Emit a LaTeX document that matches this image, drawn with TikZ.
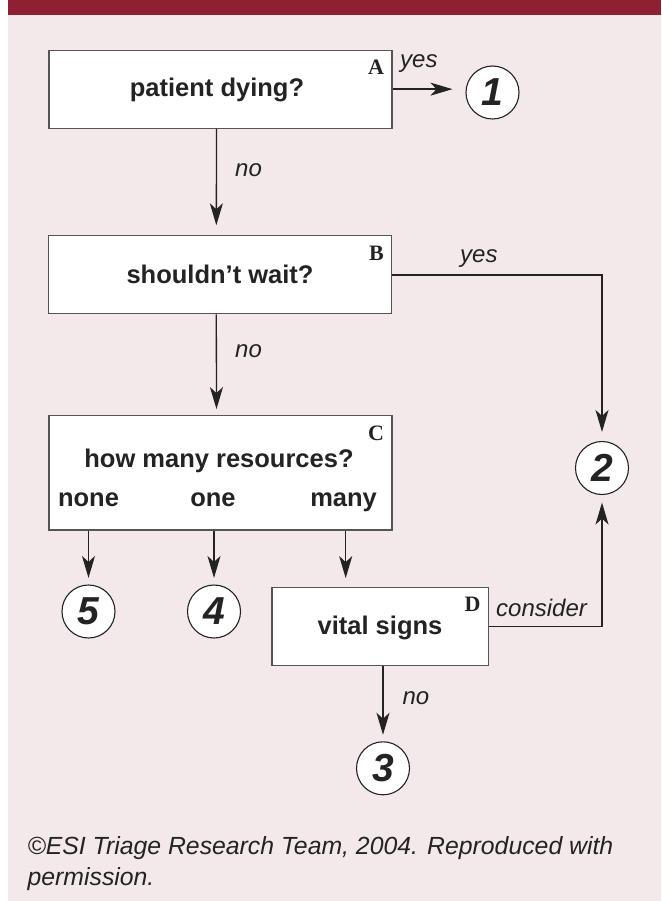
\documentclass[tikz,border=0pt]{standalone}
\usepackage{fontspec}
\setmainfont{Liberation Sans}
\newfontfamily\myserif{Liberation Serif}
\usetikzlibrary{arrows.meta,calc}
\definecolor{hdr}{RGB}{143,31,51}
\definecolor{bgpink}{RGB}{243,232,234}
\definecolor{ink}{RGB}{35,35,35}
\definecolor{edgegray}{RGB}{85,85,85}
\newcommand{\myBoldFont}{\fontsize{25.5}{30}\selectfont\bfseries}
\newcommand{\myItFont}{\fontsize{24}{28}\selectfont\itshape}
\newcommand{\myLetFont}{\myserif\fontsize{22}{26}\selectfont\bfseries}
\newcommand{\myDigFont}{\fontsize{39}{41}\selectfont\bfseries\itshape}
\newcommand{\myFootFont}{\fontsize{24.8}{31}\selectfont\itshape}
\begin{document}
\begin{tikzpicture}[x=1pt,y=-1pt,
  box/.style={draw=edgegray, line width=1.2pt, fill=white, minimum width=343pt, minimum height=78pt, inner sep=0pt},
  btxt/.style={anchor=base, inner sep=0pt, font=\myBoldFont, text=ink},
  letter/.style={anchor=base east, inner sep=0pt, font=\myLetFont, text=ink},
  circ/.style={circle, draw=ink, line width=1.1pt, fill=white, minimum size=53pt, inner sep=0pt, font=\myDigFont, text=ink},
  lbl/.style={anchor=base west, inner sep=0pt, font=\myItFont, text=ink},
  foot/.style={anchor=base west, inner sep=0pt, font=\myFootFont, text=ink},
  arr/.style={draw=ink, line width=1.3pt, -{Stealth[length=22pt,width=13pt,inset=6pt]}, shorten >=6.5pt}
]
\useasboundingbox (0,0) rectangle (661,901);
\fill[white] (0,0) rectangle (661,901);
\fill[bgpink] (8.4,0) rectangle (661,901);
\fill[hdr] (8.4,0) rectangle (661,15);

% boxes
\node[box] (A) at (220.5,89.15) {};
\node[box] (B) at (220.3,274.85) {};
\node[box, minimum height=114.3pt] (C) at (220.5,472.85) {};
\node[box, minimum width=216.7pt] (D) at (380.35,626.7) {};

% box texts
\node[btxt] (tA) at (217,97) {patient dying?};
\node[btxt] (tB) at (220,283) {shouldn’t wait?};
\node[btxt] (tC) at (219,467) {how many resources?};
\node[btxt] (tnone) at (88.5,506) {none};
\node[btxt] (tone) at (213,506) {one};
\node[btxt] (tmany) at (343.6,506) {many};
\node[btxt] (tD) at (380,634) {vital signs};

% box letters
\node[letter] (lA) at ([shift={(-8.5,25)}]A.north east) {A};
\node[letter] (lB) at ([shift={(-8.5,25.5)}]B.north east) {B};
\node[letter] (lC) at ([shift={(-8.5,25)}]C.north east) {C};
\node[letter] (lD) at ([shift={(-8.5,24)}]D.north east) {D};

% circles
\node[circ] (c1) at (492.5,92.5) {1};
\node[circ] (c2) at (602,468) {2};
\node[circ] (c5) at (88.5,611.5) {5};
\node[circ] (c4) at (214,611.5) {4};
\node[circ] (c3) at (383,768.3) {3};

% connectors
\draw[arr, shorten >=13pt] (A.east) -- (A.east -| c1.west);
\draw[arr, shorten >=10pt] ([xshift=-4pt]A.south) -- ([xshift=-4pt]B.north);
\draw[arr, shorten >=9pt] (B.east) -| (c2.north);
\draw[arr, shorten >=6pt] ([xshift=-4pt]B.south) -- ([xshift=-4pt]C.north);
\draw[arr] (C.south -| c5) -- (c5.north);
\draw[arr] (C.south -| c4) -- (c4.north);
\draw[arr, shorten >=9pt] ([xshift=125.2pt]C.south) -- ([xshift=125.2pt]C.south |- D.north);
\draw[arr, shorten >=7.5pt] (D.east) -| (c2.south);
\draw[arr] (D.south -| c3) -- (c3.north);

% connector labels
\node[lbl] (yA) at (400,68) {yes};
\node[lbl] (nA) at (235,177) {no};
\node[lbl] (yB) at (460,262.7) {yes};
\node[lbl] (nB) at (235,357) {no};
\node[lbl] (cD) at (496,616) {consider};
\node[lbl] (nD) at (402.3,704) {no};

% footer
\node[foot] (f1) at (27.4,854.3) {©ESI Triage Research Team, 2004. Reproduced with};
\node[foot] (f2) at (27.4,885) {permission.};
\end{tikzpicture}
\end{document}
